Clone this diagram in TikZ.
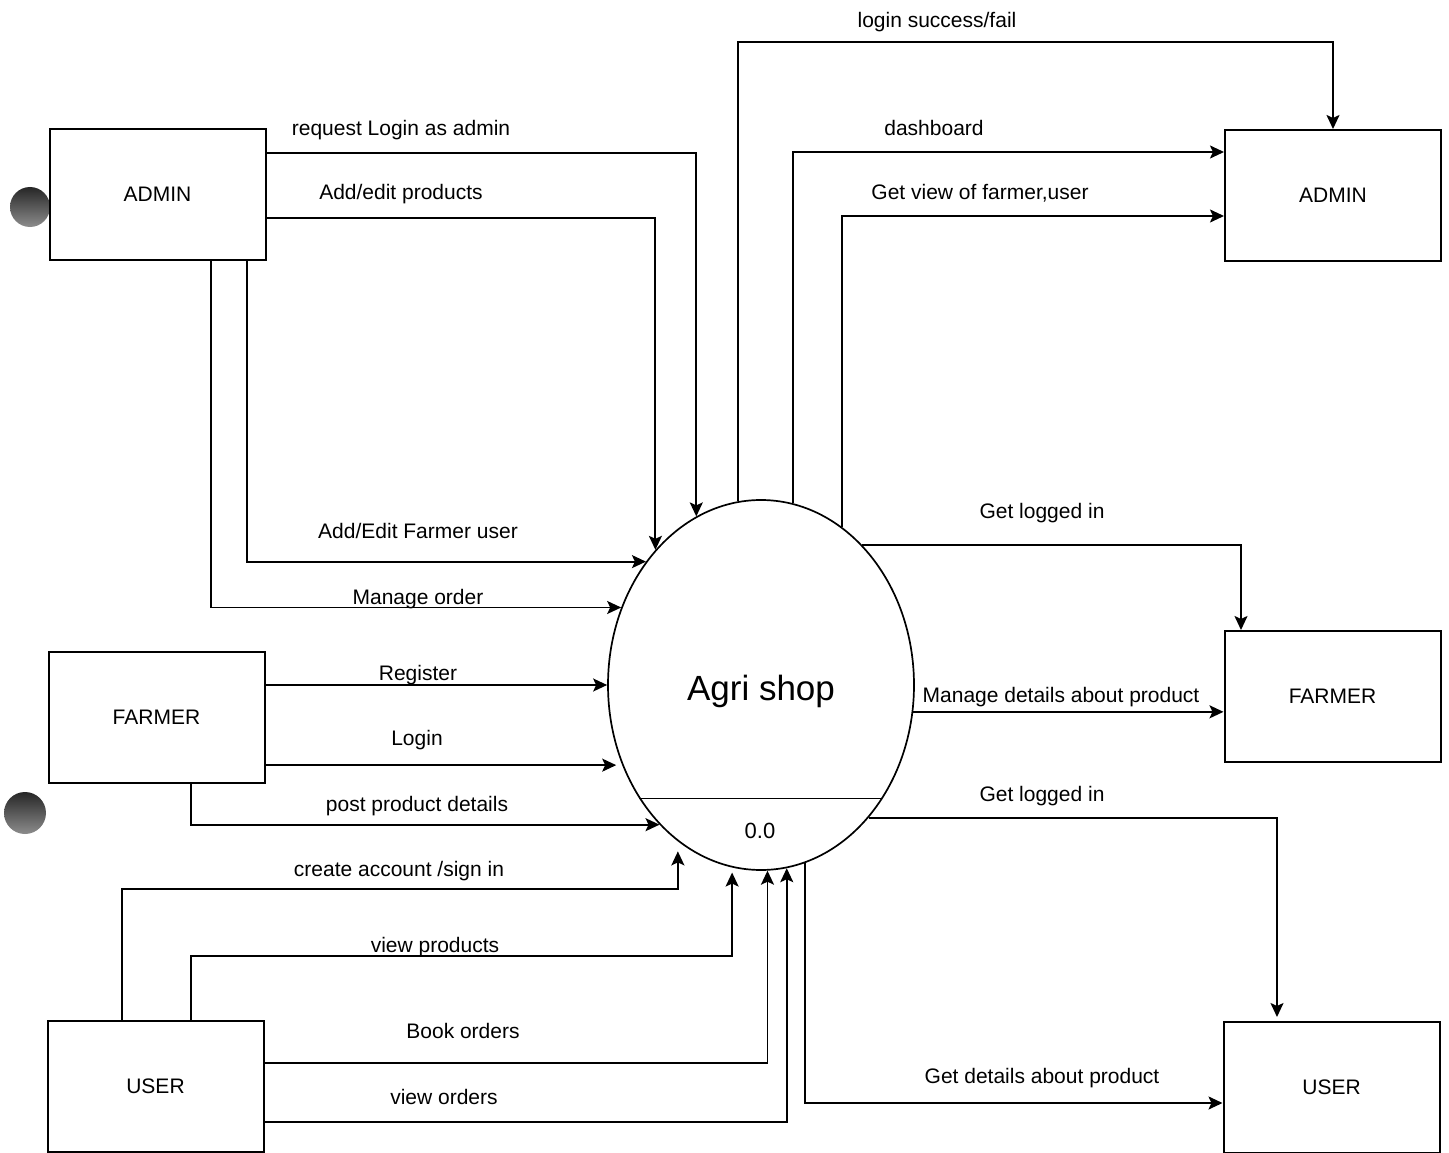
\documentclass[tikz,border=0pt]{standalone}
\usepackage{fontspec}
\setmainfont{Liberation Sans}
\usetikzlibrary{arrows.meta,shapes.geometric}

\begin{document}
\begin{tikzpicture}[x=1pt,y=-1pt,
  entity/.style={draw, line width=2pt, minimum width=216pt, minimum height=131pt,
    inner sep=0pt, font=\fontsize{21}{25}\selectfont},
  flow/.style={draw, line width=1.9pt, -{Stealth[length=14pt,width=13pt,inset=3pt]}},
  lbl/.style={anchor=base, inner sep=0pt, font=\fontsize{21}{25}\selectfont},
  hole/.style={shading=axis, top color=black!85, bottom color=black!45, shading angle=0},
]
\useasboundingbox (0,0) rectangle (1449,1153);
\fill[white] (0,0) rectangle (1449,1153);

% punched holes of the sheet
\shade[hole] (30,207) circle (20);
\shade[hole] (25,813) circle (21);

% external entities
\node[entity] (adminL)  at (157.5,194.5) {ADMIN};
\node[entity] (farmerL) at (156.5,717)   {FARMER};
\node[entity] (userL)   at (155.5,1086.5) {USER};
\node[entity] (adminR)  at (1333,195.5)  {ADMIN};
\node[entity] (farmerR) at (1332.5,696.5) {FARMER};
\node[entity] (userR)   at (1331.5,1087.5) {USER};

% the process
\node[draw, ellipse, line width=1.7pt, minimum width=306pt, minimum height=370pt,
  inner sep=0pt] (shop) at (761,685) {};
\draw[line width=1.7pt] (shop.223.8) -- (shop.223.8 -| shop.316.2);
\node[anchor=base, inner sep=0pt, font=\fontsize{35}{40}\selectfont] (shopname) at (761,700) {Agri shop};
\node[anchor=base, inner sep=0pt, font=\fontsize{22}{26}\selectfont] (shopid) at (760,838) {0.0};

% admin -> shop
\draw[flow] (adminL.east |- 0,153) -| (shop.111.6);
\draw[flow] (adminL.east |- 0,218) -| (shop.128.5);
\draw[flow] (adminL.south -| 247,0) |- (shop.133.3);
\draw[flow] (adminL.south -| 211,0) |- (shop.151);

% farmer -> shop
\draw[flow] (farmerL.east |- shop.180) -- (shop.180);
\draw[flow, shorten >=6pt] (farmerL.east |- shop.210.5) -- (shop.210.5);
\draw[flow] (farmerL.south -| 191,0) |- (shop.234.5);

% user -> shop
\draw[flow, shorten >=10pt] (userL.north -| 122,0) -- ++(0,-131) -| (shop.242.7);
\draw[flow, shorten >=5pt] (userL.north -| 191,0) -- ++(0,-64) -| (shop.261.9);
\draw[flow] (userL.east |- 0,1063) -| (shop.272.5);
\draw[flow] (userL.east |- 0,1122) -| (shop.278.4);

% shop -> right entities
\draw[flow] (shop.97.8) -- (shop.97.8 |- 0,42) -| (adminR.north);
\draw[flow] (shop.80.9) |- (adminR.west |- 0,152);
\draw[flow] (shop.63.1) |- (adminR.west |- 0,216);
\draw[flow] (shop.54.9) -| (farmerR.north -| 1241,0);
\draw[flow] (shop.350.6) -- (farmerR.west |- shop.350.6);
\draw[flow, shorten >=4pt] (shop.309.5) -| (userR.north -| 1277,0);
\draw[flow] (shop.284.3) |- (userR.west |- 0,1103);

% flow labels
\node[lbl] (t1)  at (937,28)    {login success/fail};
\node[lbl] (t2)  at (401,136)   {request Login as admin};
\node[lbl] (t3)  at (401,200)   {Add/edit products};
\node[lbl] (t4)  at (934,136)   {dashboard};
\node[lbl] (t5)  at (980,200)   {Get view of farmer,user};
\node[lbl] (t6)  at (418,538)   {Add/Edit Farmer user};
\node[lbl] (t7)  at (418,604)   {Manage order};
\node[lbl] (t8)  at (1042,518)  {Get logged in};
\node[lbl] (t9)  at (418,680)   {Register};
\node[lbl] (t10) at (1061,702)  {Manage details about product};
\node[lbl] (t11) at (417,745)   {Login};
\node[lbl] (t12) at (417,811)   {post product details};
\node[lbl] (t13) at (1042,801)  {Get logged in};
\node[lbl] (t14) at (399,876)   {create account /sign in};
\node[lbl] (t15) at (435,952)   {view products};
\node[lbl] (t16) at (463,1038)  {Book orders};
\node[lbl] (t17) at (444,1104)  {view orders};
\node[lbl] (t18) at (1042,1083) {Get details about product};
\end{tikzpicture}
\end{document}
